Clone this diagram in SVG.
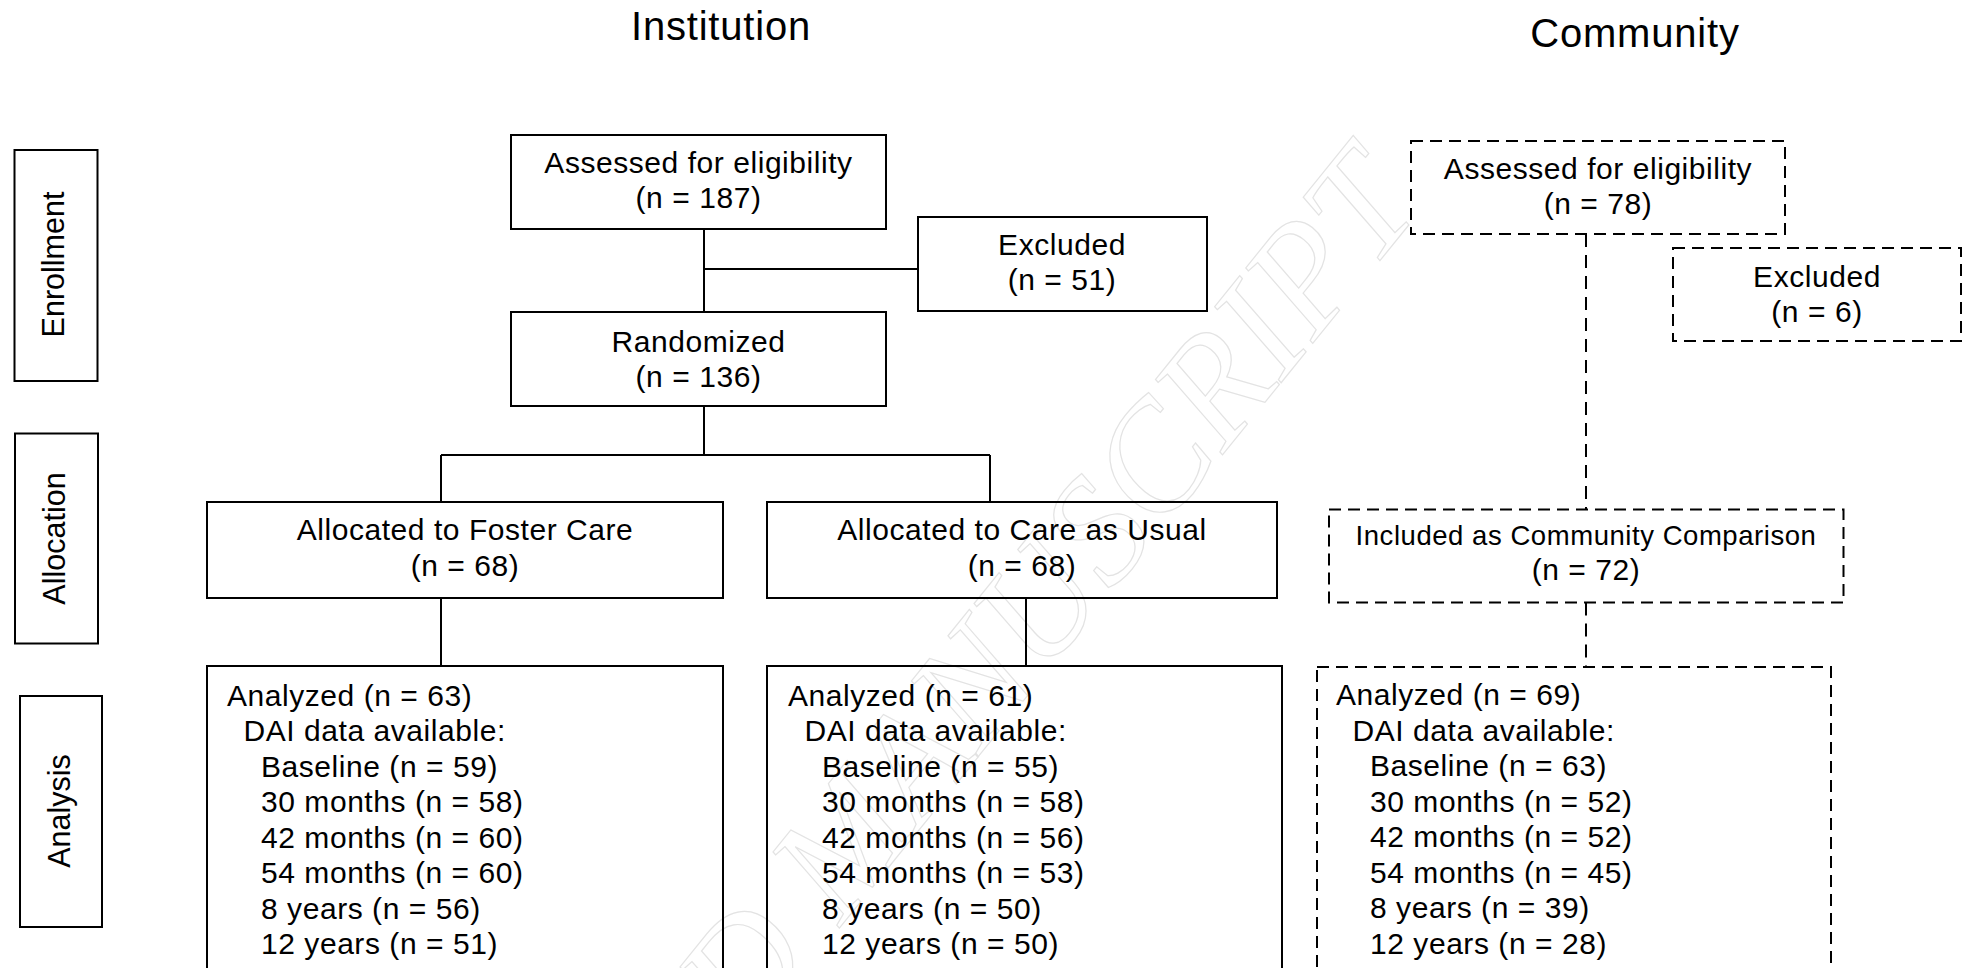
<svg xmlns="http://www.w3.org/2000/svg" width="1964" height="968" viewBox="0 0 1964 968">
<style>
  .bg { fill: #ffffff; }
  .box { fill: none; stroke: #000; stroke-width: 2; }
  .dbox { fill: none; stroke: #000; stroke-width: 2; stroke-dasharray: 12 7; }
  .ln { fill: none; stroke: #000; stroke-width: 2; }
  .dln { fill: none; stroke: #000; stroke-width: 2; stroke-dasharray: 13 8; }
  text { font-family: "Liberation Sans", Arial, sans-serif; fill: #000; }
  .t { font-size: 30px; letter-spacing: 0.55px; }
  .c { text-anchor: middle; }
  .sm { font-size: 27.5px; letter-spacing: 0.55px; }
  .title { font-size: 40px; letter-spacing: 0.8px; text-anchor: middle; }
  .side { font-size: 30.5px; text-anchor: middle; }
  .wm { font-family: "Liberation Serif", "Times New Roman", serif; font-style: italic; font-size: 152px; fill: none; stroke: #e3e3e3; stroke-width: 1.2; text-anchor: end; }
</style>
<rect class="bg" x="0" y="0" width="1964" height="968"/>

<g id="watermark">
  <text class="wm" transform="translate(1425,205) rotate(-51)">ACCEPTED MANUSCRIPT</text>
</g>

<g id="titles">
  <text class="title" x="721" y="40">Institution</text>
  <text class="title" x="1635" y="47">Community</text>
</g>

<g id="stage-enrollment">
  <rect class="box" x="14.5" y="150" width="83" height="231"/>
  <text class="side" transform="translate(63.5,264.5) rotate(-90)">Enrollment</text>
</g>
<g id="stage-allocation">
  <rect class="box" x="15" y="433.5" width="83" height="210"/>
  <text class="side" transform="translate(65,538.5) rotate(-90)">Allocation</text>
</g>
<g id="stage-analysis">
  <rect class="box" x="20" y="696" width="82" height="231"/>
  <text class="side" transform="translate(70,811) rotate(-90)">Analysis</text>
</g>

<g id="connectors">
  <path class="ln" d="M704,229 V312"/>
  <path class="ln" d="M704,269 H918"/>
  <path class="ln" d="M704,406 V455"/>
  <path class="ln" d="M441,455 H990"/>
  <path class="ln" d="M441,455 V502"/>
  <path class="ln" d="M990,455 V502"/>
  <path class="ln" d="M441,598 V666"/>
  <path class="ln" d="M1026,598 V666"/>
  <path class="dln" d="M1586,234 V509.5"/>
  <path class="dln" d="M1586,602.5 V667"/>
</g>

<g id="inst-assessed">
  <rect class="box" x="511" y="135" width="375" height="94"/>
  <text class="t c" x="698.5" y="173">Assessed for eligibility</text>
  <text class="t c" x="698.5" y="208">(n = 187)</text>
</g>
<g id="inst-excluded">
  <rect class="box" x="918" y="217" width="289" height="94"/>
  <text class="t c" x="1062" y="255">Excluded</text>
  <text class="t c" x="1062" y="290">(n = 51)</text>
</g>
<g id="inst-randomized">
  <rect class="box" x="511" y="312" width="375" height="94"/>
  <text class="t c" x="698.5" y="351.5">Randomized</text>
  <text class="t c" x="698.5" y="386.5">(n = 136)</text>
</g>
<g id="alloc-foster">
  <rect class="box" x="207" y="502" width="516" height="96"/>
  <text class="t c" x="465" y="540">Allocated to Foster Care</text>
  <text class="t c" x="465" y="576">(n = 68)</text>
</g>
<g id="alloc-cau">
  <rect class="box" x="767" y="502" width="510" height="96"/>
  <text class="t c" x="1022" y="540">Allocated to Care as Usual</text>
  <text class="t c" x="1022" y="576">(n = 68)</text>
</g>
<g id="analysis-foster">
  <rect class="box" x="207" y="666" width="516" height="320"/>
  <text class="t" x="227" y="705.5">Analyzed (n = 63)</text>
  <text class="t" x="243.5" y="741">DAI data available:</text>
  <text class="t" x="261" y="776.5">Baseline (n = 59)</text>
  <text class="t" x="261" y="812">30 months (n = 58)</text>
  <text class="t" x="261" y="847.5">42 months (n = 60)</text>
  <text class="t" x="261" y="883">54 months (n = 60)</text>
  <text class="t" x="261" y="918.5">8 years (n = 56)</text>
  <text class="t" x="261" y="954">12 years (n = 51)</text>
</g>
<g id="analysis-cau">
  <rect class="box" x="767" y="666" width="515" height="320"/>
  <text class="t" x="788" y="705.5">Analyzed (n = 61)</text>
  <text class="t" x="804.5" y="741">DAI data available:</text>
  <text class="t" x="822" y="776.5">Baseline (n = 55)</text>
  <text class="t" x="822" y="812">30 months (n = 58)</text>
  <text class="t" x="822" y="847.5">42 months (n = 56)</text>
  <text class="t" x="822" y="883">54 months (n = 53)</text>
  <text class="t" x="822" y="918.5">8 years (n = 50)</text>
  <text class="t" x="822" y="954">12 years (n = 50)</text>
</g>

<g id="comm-assessed">
  <rect class="dbox" x="1411" y="141" width="374" height="93"/>
  <text class="t c" x="1598" y="179">Assessed for eligibility</text>
  <text class="t c" x="1598" y="214">(n = 78)</text>
</g>
<g id="comm-excluded">
  <rect class="dbox" x="1673" y="248" width="288" height="93"/>
  <text class="t c" x="1817" y="286.5">Excluded</text>
  <text class="t c" x="1817" y="321.5">(n = 6)</text>
</g>
<g id="comm-included">
  <rect class="dbox" x="1329" y="509.5" width="514.5" height="93"/>
  <text class="sm c" x="1586" y="545">Included as Community Comparison</text>
  <text class="t c" x="1586" y="580">(n = 72)</text>
</g>
<g id="analysis-comm">
  <rect class="dbox" x="1317" y="667" width="514" height="320"/>
  <text class="t" x="1336" y="705">Analyzed (n = 69)</text>
  <text class="t" x="1352.5" y="740.5">DAI data available:</text>
  <text class="t" x="1370" y="776">Baseline (n = 63)</text>
  <text class="t" x="1370" y="811.5">30 months (n = 52)</text>
  <text class="t" x="1370" y="847">42 months (n = 52)</text>
  <text class="t" x="1370" y="882.5">54 months (n = 45)</text>
  <text class="t" x="1370" y="918">8 years (n = 39)</text>
  <text class="t" x="1370" y="953.5">12 years (n = 28)</text>
</g>
</svg>
